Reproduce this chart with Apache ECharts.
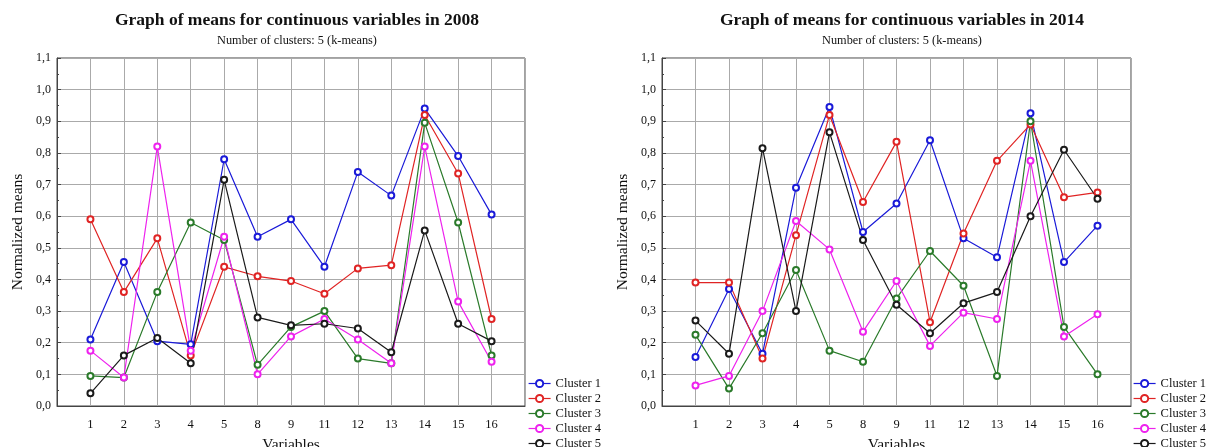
<!DOCTYPE html>
<html>
<head>
<meta charset="UTF-8">
<script src="https://cdn.jsdelivr.net/npm/echarts@6/dist/echarts.min.js"></script>
<style>
  html, body { margin: 0; padding: 0; background: #fff; }
  #chart { width: 1211px; height: 447px; }
</style>
</head>
<body>
<div id="chart"></div>
<script>
// variable labels (empty slots pad both ends of the axis)
var variables = ['', '1', '2', '3', '4', '5', '8', '9', '11', '12', '13', '14', '15', '16', ''];
var clusterNames = ['Cluster 1', 'Cluster 2', 'Cluster 3', 'Cluster 4', 'Cluster 5'];
var clusterColors = ['#1a1ad8', '#e02424', '#2a7a2a', '#ee22ee', '#1a1a1a'];

// 2008 means
var c1_2008 = [0.21, 0.455, 0.205, 0.195, 0.78, 0.535, 0.59, 0.44, 0.74, 0.665, 0.94, 0.79, 0.605];
var c2_2008 = [0.59, 0.36, 0.53, 0.16, 0.44, 0.41, 0.395, 0.355, 0.435, 0.445, 0.92, 0.735, 0.275];
var c3_2008 = [0.095, 0.09, 0.36, 0.58, 0.525, 0.13, 0.25, 0.30, 0.15, 0.135, 0.895, 0.58, 0.16];
var c4_2008 = [0.175, 0.09, 0.82, 0.175, 0.535, 0.10, 0.22, 0.275, 0.21, 0.135, 0.82, 0.33, 0.14];
var c5_2008 = [0.04, 0.16, 0.215, 0.135, 0.715, 0.28, 0.255, 0.26, 0.245, 0.17, 0.555, 0.26, 0.205];

// 2014 means
var c1_2014 = [0.155, 0.37, 0.165, 0.69, 0.945, 0.55, 0.64, 0.84, 0.53, 0.47, 0.925, 0.455, 0.57];
var c2_2014 = [0.39, 0.39, 0.15, 0.54, 0.92, 0.645, 0.835, 0.265, 0.545, 0.775, 0.89, 0.66, 0.675];
var c3_2014 = [0.225, 0.055, 0.23, 0.43, 0.175, 0.14, 0.34, 0.49, 0.38, 0.095, 0.90, 0.25, 0.10];
var c4_2014 = [0.065, 0.095, 0.30, 0.585, 0.495, 0.235, 0.395, 0.19, 0.295, 0.275, 0.775, 0.22, 0.29];
var c5_2014 = [0.27, 0.165, 0.815, 0.30, 0.865, 0.525, 0.32, 0.23, 0.325, 0.36, 0.60, 0.81, 0.655];

var data2008 = [c1_2008, c2_2008, c3_2008, c4_2008, c5_2008];
var data2014 = [c1_2014, c2_2014, c3_2014, c4_2014, c5_2014];

var serif = '"Liberation Serif", "DejaVu Serif", serif';

// pad with a null at each end so points sit on the real variable slots
function pad(arr) { return [null].concat(arr, [null]); }

function xAxisFor(idx) {
  return {
    type: 'category', gridIndex: idx, data: variables, boundaryGap: false,
    name: 'Variables', nameLocation: 'middle', nameGap: 31,
    nameTextStyle: { fontFamily: serif, fontSize: 15.5, color: '#111' },
    axisLine: { show: true, lineStyle: { color: '#444' } },
    axisTick: { show: false },
    axisLabel: { interval: 0, fontFamily: serif, fontSize: 12.5, color: '#111', margin: 12 },
    splitLine: { show: true, lineStyle: { color: '#aaa', width: 1 } }
  };
}

function yAxisFor(idx) {
  return {
    type: 'value', gridIndex: idx, min: 0, max: 1.1, interval: 0.1,
    name: 'Normalized means', nameLocation: 'middle', nameGap: 31,
    nameTextStyle: { fontFamily: serif, fontSize: 15.5, color: '#111' },
    axisLine: { show: true, lineStyle: { color: '#444' } },
    axisTick: { show: true, inside: true, length: 4, lineStyle: { color: '#444' } },
    minorTick: { show: true, splitNumber: 2, length: 2, lineStyle: { color: '#444' } },
    axisLabel: {
      fontFamily: serif, fontSize: 12, color: '#111', margin: 6,
      formatter: function (v) { return v.toFixed(1).replace('.', ','); }
    },
    splitLine: { show: true, lineStyle: { color: '#aaa', width: 1 } }
  };
}

var series = [];
[data2008, data2014].forEach(function (set, g) {
  set.forEach(function (vals, i) {
    series.push({
      name: clusterNames[i], type: 'line', xAxisIndex: g, yAxisIndex: g,
      data: pad(vals), connectNulls: false,
      symbol: 'emptyCircle', symbolSize: 6,
      itemStyle: { color: clusterColors[i], borderWidth: 1.3 },
      lineStyle: { color: clusterColors[i], width: 1.2 },
      animation: false
    });
  });
});

function legendAt(x) {
  return {
    data: clusterNames, orient: 'vertical', left: x, top: 377, height: 100,
    itemGap: 2, itemWidth: 22, itemHeight: 9, padding: 0,
    itemStyle: { borderWidth: 1.2 },
    lineStyle: { width: 1.2 },
    textStyle: { fontFamily: serif, fontSize: 12.5, color: '#111' }
  };
}

function titleAt(x, year) {
  return {
    text: 'Graph of means for continuous variables in ' + year,
    subtext: 'Number of clusters: 5 (k-means)',
    left: x, top: 6, textAlign: 'center', itemGap: 6,
    textStyle: { fontFamily: serif, fontSize: 17.5, fontWeight: 'bold', color: '#111' },
    subtextStyle: { fontFamily: serif, fontSize: 12.3, color: '#111' }
  };
}

var chart = echarts.init(document.getElementById('chart'));
chart.setOption({
  backgroundColor: '#fff',
  animation: false,
  title: [titleAt(292, 2008), titleAt(897, 2014)],
  legend: [legendAt(528), legendAt(1133)],
  grid: [
    { left: 57, top: 58, width: 468, height: 348, outerBoundsMode: 'none', show: true, borderColor: '#444', borderWidth: 1, backgroundColor: 'transparent' },
    { left: 662, top: 58, width: 469, height: 348, outerBoundsMode: 'none', show: true, borderColor: '#444', borderWidth: 1, backgroundColor: 'transparent' }
  ],
  xAxis: [xAxisFor(0), xAxisFor(1)],
  yAxis: [yAxisFor(0), yAxisFor(1)],
  series: series
});
</script>
</body>
</html>
